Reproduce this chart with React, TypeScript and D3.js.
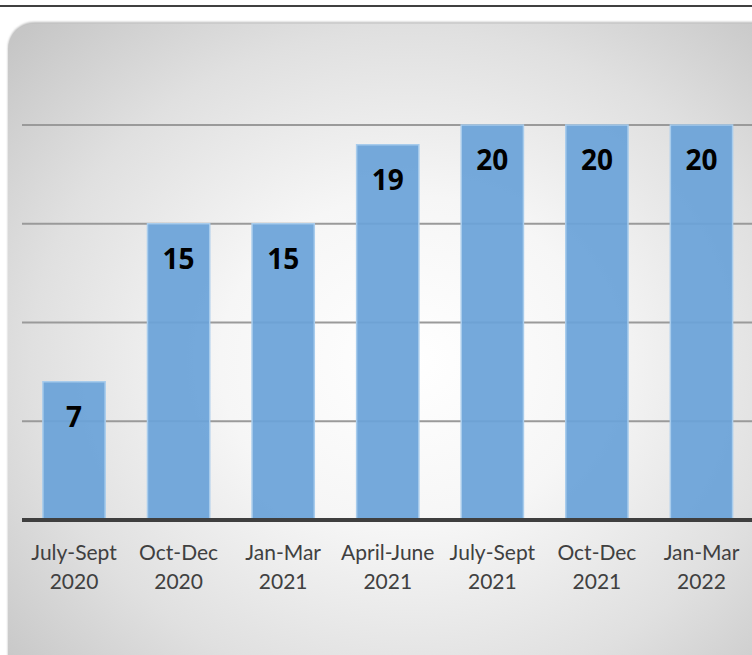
import React from "react";
import * as d3 from "d3";

const categories = ["July-Sept 2020", "Oct-Dec 2020", "Jan-Mar 2021", "April-June 2021", "July-Sept 2021", "Oct-Dec 2021", "Jan-Mar 2022"];
const values = [7, 15, 15, 19, 20, 20, 20];
const gridTicks = [5, 10, 15, 20];

export default function App() {
  const W = 752, H = 655;
  const x = d3.scaleBand<string>().domain(categories).range([22, 753.5]).paddingInner(0.405).paddingOuter(0.2);
  const y = d3.scaleLinear().domain([0, 20]).range([520, 125]);
  return (
    <svg width={W} height={H} style={{ position: "absolute", left: 0, top: 0 }}>
      <defs>
        <radialGradient id="bg" cx="0.52" cy="0.5" r="0.7">
          <stop offset="0" stopColor="#ffffff" />
          <stop offset="0.35" stopColor="#f6f6f6" />
          <stop offset="0.7" stopColor="#e0e0e0" />
          <stop offset="1" stopColor="#c6c6c6" />
        </radialGradient>
        <filter id="sh" x="-5%" y="-5%" width="110%" height="110%">
          <feGaussianBlur stdDeviation="1.2" />
        </filter>
      </defs>
      <rect width={W} height={H} fill="#ffffff" />
      <line x1={0} x2={W} y1={6} y2={6} stroke="#000" strokeWidth={1.5} />
      <rect x={8} y={22} width={W + 20} height={H + 20} rx={26} fill="#b8b8b8" filter="url(#sh)" />
      <rect x={8} y={23.5} width={W + 20} height={H + 20} rx={26} fill="url(#bg)" />
      {gridTicks.map((t) => (
        <line key={t} x1={22} x2={W} y1={y(t)} y2={y(t)} stroke="#9a9a9a" strokeWidth={2} />
      ))}
      {categories.map((c, i) => (
        <g key={c}>
          <rect x={x(c)} y={y(values[i])} width={x.bandwidth()} height={y(0) - y(values[i])} fill="#6aa3d8" fillOpacity={0.93} stroke="#a8ccec" strokeWidth={1.5} />
          <text x={(x(c) as number) + x.bandwidth() / 2} y={y(values[i]) + 45} textAnchor="middle" fontFamily="'Open Sans', 'Liberation Sans', Arial, sans-serif" fontWeight="bold" fontSize={28} fill="#000">{values[i]}</text>
          {c.split(" ").map((part, j) => (
            <text key={j} x={(x(c) as number) + x.bandwidth() / 2} y={560 + j * 29} textAnchor="middle" fontFamily="Lato, 'Open Sans', sans-serif" fontSize={21} fill="#404040">{part}</text>
          ))}
        </g>
      ))}
      <line x1={22} x2={W} y1={y(0)} y2={y(0)} stroke="#3f3f3f" strokeWidth={4} />
    </svg>
  );
}
